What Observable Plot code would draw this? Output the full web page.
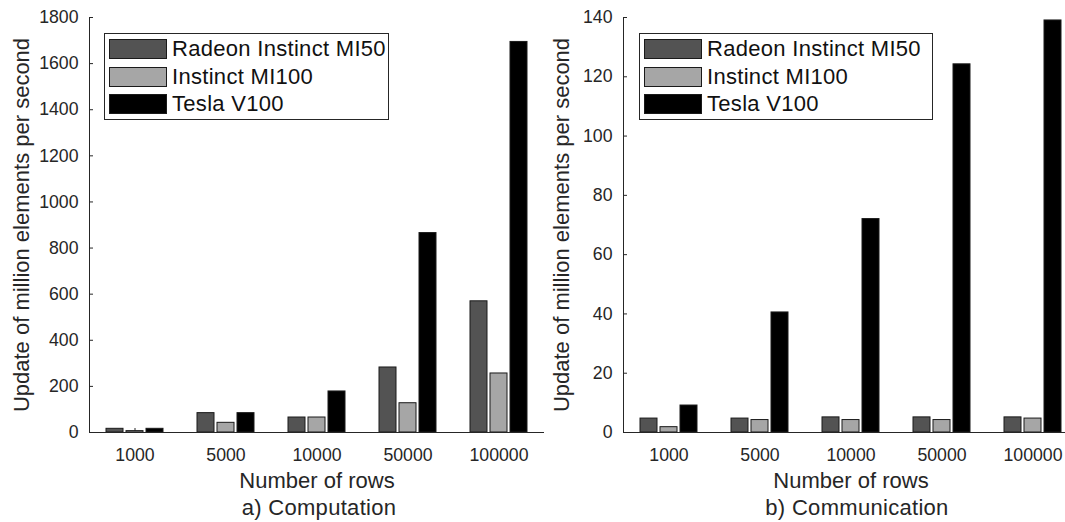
<!DOCTYPE html>
<html>
<head>
<meta charset="utf-8">
<script src="https://cdn.jsdelivr.net/npm/d3@7"></script>
<script src="https://cdn.jsdelivr.net/npm/@observablehq/plot@0.6"></script>
<style>
  html, body { margin: 0; padding: 0; background: #fff; }
  #root { position: relative; width: 1065px; height: 522px; overflow: hidden; background: #fff;
          font-family: "Liberation Sans", Arial, Helvetica, sans-serif; color: #262626; }
  .chart { position: absolute; top: 0; width: 544px; height: 522px; }
  .chart svg { max-width: none !important; }
  .legend { position: absolute; box-sizing: border-box; border: 1px solid #262626; background: #fff; }
  .sw { position: absolute; box-sizing: border-box; border: 1px solid #1a1a1a; width: 58px; height: 20px; }
  .lt { position: absolute; font-size: 22px; line-height: 20px; height: 20px; color: #111; white-space: nowrap; letter-spacing: 0.3px; }
  .cap { position: absolute; font-size: 22px; line-height: 24px; white-space: nowrap; transform: translateX(-50%); color: #262626; letter-spacing: 0.3px; }
</style>
</head>
<body>
<div id="root"></div>
<script>
// ---- data ----
const categories = ["1000", "5000", "10000", "50000", "100000"];
const series = ["Radeon Instinct MI50", "Instinct MI100", "Tesla V100"];
const seriesColors = ["#535353", "#a6a6a6", "#000000"];

const computationMI50  = [16, 84, 65, 282, 569];
const computationMI100 = [6, 42, 65, 127, 256];
const computationV100  = [16, 84, 178, 865, 1694];

const communicationMI50  = [4.7, 4.7, 5.1, 5.1, 5.1];
const communicationMI100 = [1.8, 4.2, 4.2, 4.2, 4.7];
const communicationV100  = [9.1, 40.5, 72.0, 124.2, 139.0];

const computationTicks = [0, 200, 400, 600, 800, 1000, 1200, 1400, 1600, 1800];
const communicationTicks = [0, 20, 40, 60, 80, 100, 120, 140];

const xLabel = "Number of rows";
const yLabel = "Update of million elements per second";
const captions = ["a) Computation", "b) Communication"];

// ---- helpers ----
function tidy(valueArrays) {
  return categories.flatMap((c, i) => series.map((s, j) => ({category: c, series: s, value: valueArrays[j][i]})));
}

function makeChart({values, ticks, yLabelOffset}) {
  const data = tidy(values);
  return Plot.plot({
    width: 544,
    height: 522,
    marginLeft: 89,
    marginRight: 0,
    marginTop: 17,
    marginBottom: 90,
    style: {fontFamily: '"Liberation Sans", Arial, Helvetica, sans-serif', color: "#262626", background: "transparent", overflow: "visible"},
    fx: {domain: categories, paddingInner: 0, paddingOuter: 0},
    x: {domain: series, paddingInner: 0.165, paddingOuter: 0.855, axis: null},
    y: {domain: [ticks[0], ticks[ticks.length - 1]], axis: null},
    color: {domain: series, range: seriesColors},
    marks: [
      Plot.axisFx({anchor: "bottom", tickSize: -4, tickPadding: 20, fontSize: 17.7, label: null, stroke: "#262626"}),
      Plot.axisFx({anchor: "bottom", ticks: [], tickSize: 0, fontSize: 22, label: xLabel, labelAnchor: "center", labelOffset: 55, labelArrow: "none"}),
      Plot.barY(data, {fx: "category", x: "series", y: "value", fill: "series", stroke: "#1a1a1a", strokeWidth: 1}),
      Plot.ruleY([0], {stroke: "#262626", strokeWidth: 1}),
      Plot.frame({anchor: "left", facetAnchor: "left", stroke: "#262626", strokeWidth: 1}),
      Plot.axisY({anchor: "left", ticks, tickSize: -4, tickPadding: 15, fontSize: 17.7, tickFormat: d => String(d), label: null}),
      Plot.axisY({anchor: "left", ticks: [], tickSize: 0, fontSize: 22, label: yLabel, labelAnchor: "center", labelOffset: yLabelOffset, labelArrow: "none"})
    ]
  });
}

function makeLegend(left, width) {
  const box = document.createElement("div");
  box.className = "legend";
  box.style.left = left + "px";
  box.style.top = "33px";
  box.style.width = width + "px";
  box.style.height = "87px";
  series.forEach((s, i) => {
    const sw = document.createElement("div");
    sw.className = "sw";
    sw.style.left = "4px";
    sw.style.top = (5 + i * 27.5) + "px";
    sw.style.background = seriesColors[i];
    box.appendChild(sw);
    const t = document.createElement("div");
    t.className = "lt";
    t.style.left = "67px";
    t.style.top = (5 + i * 27.5) + "px";
    t.textContent = s;
    box.appendChild(t);
  });
  return box;
}

const root = document.getElementById("root");

const left = document.createElement("div");
left.className = "chart";
left.style.left = "0px";
left.appendChild(makeChart({values: [computationMI50, computationMI100, computationV100], ticks: computationTicks, yLabelOffset: 76}));
root.appendChild(left);

const right = document.createElement("div");
right.className = "chart";
right.style.left = "534px";
right.appendChild(makeChart({values: [communicationMI50, communicationMI100, communicationV100], ticks: communicationTicks, yLabelOffset: 70}));
root.appendChild(right);

root.appendChild(makeLegend(104, 285));
root.appendChild(makeLegend(639, 294));

[[captions[0], 319], [captions[1], 857]].forEach(([txt, cx]) => {
  const c = document.createElement("div");
  c.className = "cap";
  c.style.left = cx + "px";
  c.style.top = "496px";
  c.textContent = txt;
  root.appendChild(c);
});
</script>
</body>
</html>
